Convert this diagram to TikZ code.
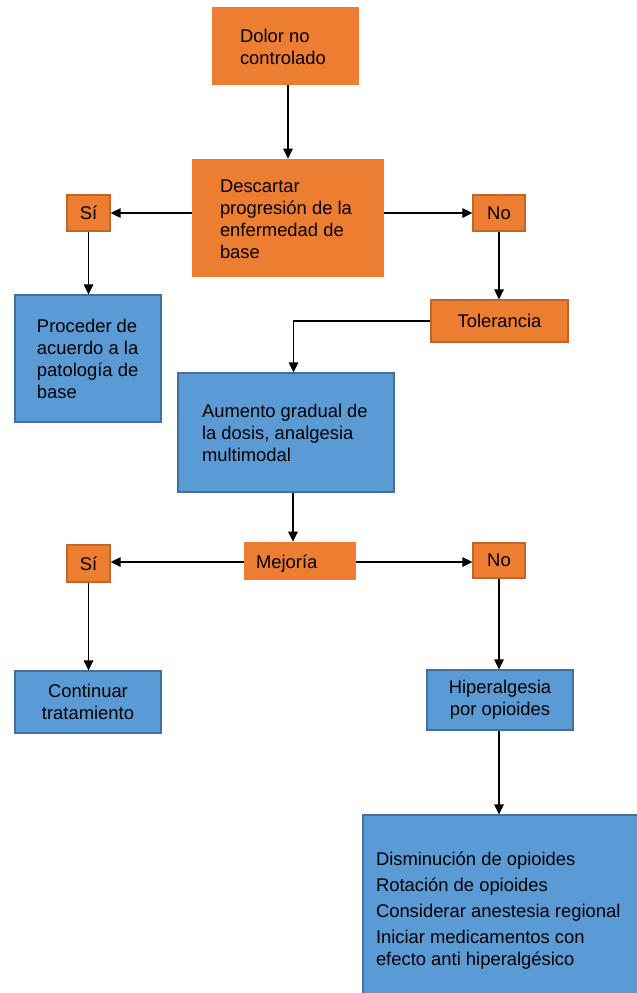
\documentclass[tikz,border=0pt]{standalone}
\usepackage{fontspec}
\setmainfont{Liberation Sans}
\usetikzlibrary{arrows.meta,calc}
\definecolor{orfill}{HTML}{ED7D31}
\definecolor{ordraw}{HTML}{C3652A}
\definecolor{blfill}{HTML}{5B9BD5}
\definecolor{bldraw}{HTML}{41719C}
\newcommand\leftblock[3]{\makebox[#1][l]{\hspace*{#2}\raisebox{-2pt}[\height][\depth]{\begin{tabular}{@{}l@{}}#3\end{tabular}}}}
\tikzset{
  base/.style={rectangle, font=\fontsize{13.8pt}{16.5pt}\selectfont, inner ysep=0pt, inner xsep=0pt},
  orbig/.style={base, fill=orfill},
  orsmall/.style={base, fill=orfill, draw=ordraw, line width=0.9pt, align=center},
  blbox/.style={base, fill=blfill, draw=bldraw, line width=0.9pt},
  arr/.style={line width=1.3pt, -{Triangle[length=7.5pt,width=7pt]}}
}
\begin{document}
\begin{tikzpicture}[x=0.75pt,y=-0.75pt]
\useasboundingbox (0,0) rectangle (636,993);
% boxes
\node[orbig, minimum width=147*0.75pt, minimum height=78*0.75pt] (dolor) at (285.5,46) {\leftblock{110.25pt}{21pt}{Dolor no\\controlado}};
\node[orbig, minimum width=192*0.75pt, minimum height=118*0.75pt] (descartar) at (288,218) {\leftblock{144pt}{21pt}{Descartar\\progresión de la\\enfermedad de\\base}};
\node[orsmall, minimum width=43*0.75pt, minimum height=36*0.75pt] (siA) at (88.5,213) {Sí};
\node[orsmall, minimum width=52*0.75pt, minimum height=36*0.75pt] (noA) at (499,213) {No};
\node[blbox, minimum width=146*0.75pt, minimum height=127*0.75pt] (proceder) at (88,358.5) {\leftblock{109.5pt}{16.5pt}{Proceder de\\acuerdo a la\\patología de\\base}};
\node[orsmall, minimum width=137*0.75pt, minimum height=42*0.75pt] (tol) at (499.5,321) {Tolerancia};
\node[blbox, minimum width=216*0.75pt, minimum height=119*0.75pt] (aumento) at (286,432.5) {\leftblock{162pt}{18pt}{Aumento gradual de\\la dosis, analgesia\\multimodal}};
\node[orbig, minimum width=112*0.75pt, minimum height=38*0.75pt] (mejoria) at (300,561) {\leftblock{84pt}{9pt}{Mejoría}};
\node[orsmall, minimum width=43*0.75pt, minimum height=37*0.75pt] (siB) at (88.5,563.5) {Sí};
\node[orsmall, minimum width=52*0.75pt, minimum height=35*0.75pt] (noB) at (499,560.5) {No};
\node[blbox, minimum width=146*0.75pt, minimum height=62*0.75pt, align=center] (continuar) at (88,702) {Continuar\\tratamiento};
\node[blbox, minimum width=146*0.75pt, minimum height=60*0.75pt, align=center] (hiper) at (500,700) {Hiperalgesia\\por opioides};
\node[blbox, minimum width=277*0.75pt, minimum height=186*0.75pt] (final) at (501.5,908) {\leftblock{207.75pt}{9.75pt}{Disminución de opioides\\[3pt]Rotación de opioides\\[3pt]Considerar anestesia regional\\[3pt]Iniciar medicamentos con\\efecto anti hiperalgésico}};
% helper coordinates
\coordinate (a1) at ($(aumento.north)+(7.5,0)$);
\coordinate (a2) at ($(aumento.south)+(7,0)$);
\coordinate (m1) at ($(mejoria.west)+(0,1)$);
\coordinate (m2) at ($(mejoria.east)+(0,1)$);
% connectors
\draw[arr] (dolor.south -| descartar.north) -- (descartar.north);
\draw[arr] (descartar.west |- siA.east) -- (siA.east);
\draw[arr] (descartar.east |- noA.west) -- (noA.west);
\draw[arr] (siA.south) -- (siA.south |- proceder.north);
\draw[arr] (noA.south) -- (noA.south |- tol.north);
\draw[arr] (tol.west) -| (a1);
\draw[arr] (a2) -- (a2 |- mejoria.north);
\draw[arr] (m1) -- (m1 -| siB.east);
\draw[arr] (m2) -- (m2 -| noB.west);
\draw[arr] (siB.south) -- (siB.south |- continuar.north);
\draw[arr] (noB.south) -- (noB.south |- hiper.north);
\draw[arr] (hiper.south -| noB.south) -- (noB.south |- final.north);
\end{tikzpicture}
\end{document}
